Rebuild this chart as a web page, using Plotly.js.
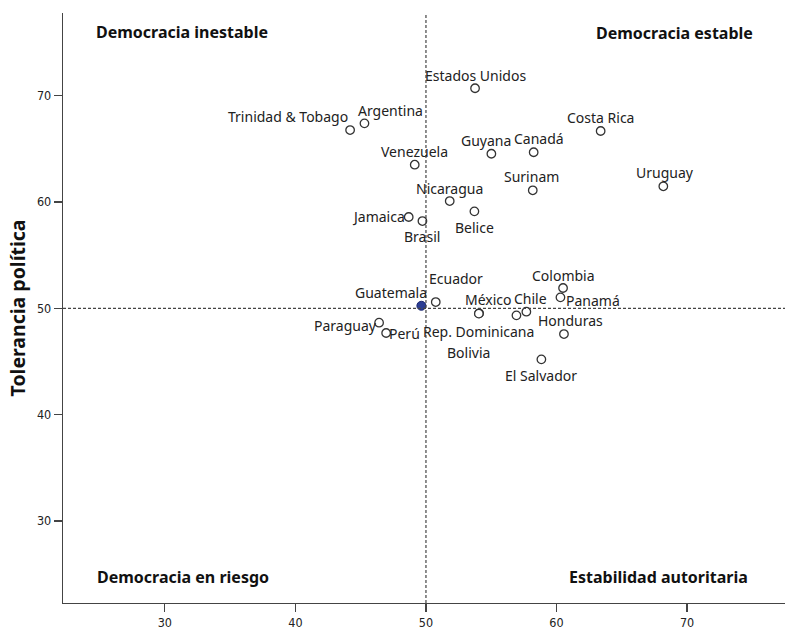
<!DOCTYPE html>
<html><head><meta charset="utf-8">
<script src="https://cdn.plot.ly/plotly-3.0.1.min.js"></script>
<style>html,body{margin:0;padding:0;background:#fff;}#chart{width:787px;height:633px;}</style>
</head><body><div id="chart"></div>
<script>
// Data
const countries = ["Estados Unidos","Costa Rica","Guyana","Canadá","Venezuela","Uruguay","Surinam","Nicaragua","Belice","Jamaica","Brasil","Trinidad & Tobago","Argentina","Guatemala","Ecuador","Colombia","Panamá","México","Chile","Rep. Dominicana","Honduras","Bolivia","El Salvador","Paraguay","Perú"];
const stability = [53.76,63.38,55.01,58.25,49.14,68.18,58.18,51.82,53.71,48.68,49.73,44.19,45.29,49.65,50.75,60.50,60.30,54.07,57.69,56.93,60.57,54.05,58.84,46.41,46.95];
const tolerance = [70.70,66.68,64.54,64.68,63.51,61.48,61.10,60.09,59.12,58.59,58.21,66.77,67.40,50.24,50.59,51.91,51.03,49.53,49.68,49.34,47.58,49.50,45.20,48.65,47.68];
const highlighted = ["Guatemala"];
const xTicks = [30,40,50,60,70];
const yTicks = [30,40,50,60,70];
const refX = 50, refY = 50;
const quadrantLabels = ["Democracia inestable","Democracia estable","Democracia en riesgo","Estabilidad autoritaria"];
const yTitle = "Tolerancia política";

// Label offsets (pixels, text centre relative to its point) — layout only
const labelShift = {
 "Estados Unidos":[0,13],"Costa Rica":[0,13.5],"Guyana":[-5,13.5],"Canadá":[5,13.5],
 "Venezuela":[0,13.5],"Uruguay":[2,13.5],"Surinam":[-1,13.5],"Nicaragua":[0,13],
 "Belice":[0,-16],"Jamaica":[-30.5,1],"Brasil":[0,-15.5],"Trinidad & Tobago":[-62,13.3],
 "Argentina":[26,12.6],"Guatemala":[-30,13],"Ecuador":[20,23.7],"Colombia":[0,12.3],
 "Panamá":[32.5,-2.7],"México":[9,14],"Chile":[4,13.4],"Rep. Dominicana":[-38,-15.7],
 "Honduras":[7,13.3],"Bolivia":[-10,-38.5],"El Salvador":[0,-16.4],"Paraguay":[-33.6,-3.3],"Perú":[18.5,-1]
};

const isHi = countries.map(c => highlighted.includes(c));
const normal = {x:[],y:[]}, hi = {x:[],y:[]};
countries.forEach((c,i)=>{ const t = isHi[i]?hi:normal; t.x.push(stability[i]); t.y.push(tolerance[i]); });

const traces = [
 {type:'scatter',mode:'markers',x:normal.x,y:normal.y,hoverinfo:'skip',
  marker:{symbol:'circle',size:8.5,color:'#ffffff',line:{color:'#333333',width:1.3}}},
 {type:'scatter',mode:'markers',x:hi.x,y:hi.y,hoverinfo:'skip',
  marker:{symbol:'circle',size:9,color:'#2b3d94',line:{color:'#1a2670',width:1}}}
];

const labelFont = {family:'"Noto Sans", "Open Sans", sans-serif',size:14,color:'#222'};
const annotations = countries.map((c,i)=>({
 x:stability[i],y:tolerance[i],xref:'x',yref:'y',text:c,showarrow:false,
 xanchor:'center',yanchor:'middle',xshift:labelShift[c][0],yshift:labelShift[c][1],font:labelFont
}));
const qFont = {family:'"Noto Sans", sans-serif',size:16,color:'#111'};
const qPos = [[0.043,0.967,'left'],[0.958,0.966,'right'],[0.044,0.044,'left'],[0.951,0.044,'right']];
quadrantLabels.forEach((t,i)=>annotations.push({
 xref:'paper',yref:'paper',x:qPos[i][0],y:qPos[i][1],xanchor:qPos[i][2],yanchor:'middle',
 text:'<b>'+t+'</b>',showarrow:false,font:qFont
}));

const tickFont = {family:'"Liberation Sans Narrow","DejaVu Sans Condensed",sans-serif',size:12.5,color:'#222'};
const layout = {
 width:787,height:633,paper_bgcolor:'#fff',plot_bgcolor:'#fff',showlegend:false,
 margin:{l:63,r:2,t:13,b:30},
 xaxis:{range:[22.2,77.5],tickvals:xTicks,ticktext:xTicks.map(String),showgrid:false,zeroline:false,
  showline:true,linecolor:'#444',linewidth:1.3,ticks:'outside',ticklen:8,tickwidth:1.3,tickcolor:'#444',
  tickfont:tickFont},
 yaxis:{range:[22.28,77.78],tickvals:yTicks,ticktext:yTicks.map(String),showgrid:false,zeroline:false,
  showline:true,linecolor:'#444',linewidth:1.3,ticks:'outside',ticklen:8,tickwidth:1.3,tickcolor:'#444',
  tickfont:tickFont,
  title:{text:'<b>'+yTitle+'</b>',standoff:6,font:{family:'"Noto Sans", sans-serif',size:19.5,color:'#111'}}},
 shapes:[
  {type:'line',xref:'x',yref:'paper',x0:refX,x1:refX,y0:0,y1:1,line:{color:'#444',width:1.2,dash:'3px,2px'}},
  {type:'line',xref:'paper',yref:'y',x0:0,x1:1,y0:refY,y1:refY,line:{color:'#444',width:1.2,dash:'3px,2px'}}
 ],
 annotations:annotations
};
Plotly.newPlot('chart',traces,layout,{displayModeBar:false,staticPlot:true});
</script></body></html>
